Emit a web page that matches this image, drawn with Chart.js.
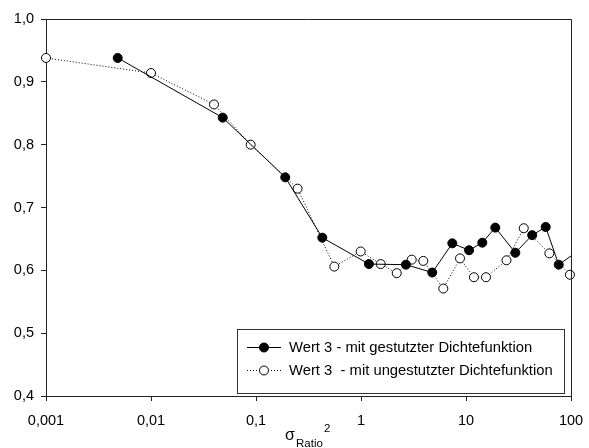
<!DOCTYPE html>
<html>
<head>
<meta charset="utf-8">
<script src="https://cdn.jsdelivr.net/npm/chart.js@4/dist/chart.umd.min.js"></script>
<style>
  html, body { margin: 0; padding: 0; background: #fff; }
  #c { display: block; }
</style>
</head>
<body>
<canvas id="c" width="589" height="448"></canvas>
<script>
// ---- data ----
const filledX = [0.00482, 0.0482, 0.19, 0.428, 1.19, 2.68, 4.77, 7.41, 10.7, 14.3, 19.0, 29.5, 42.7, 57.4, 76.4, 115];
const filledY = [0.938, 0.843, 0.748, 0.652, 0.610, 0.609, 0.5965, 0.643, 0.632, 0.644, 0.668, 0.628, 0.656, 0.669, 0.609, 0.630];
const openX = [0.001, 0.01, 0.0398, 0.089, 0.249, 0.557, 0.993, 1.54, 2.19, 3.04, 3.92, 6.08, 8.77, 11.9, 15.5, 24.3, 35.5, 62.2, 97.7];
const openY = [0.938, 0.914, 0.864, 0.800, 0.730, 0.606, 0.630, 0.610, 0.5955, 0.617, 0.615, 0.571, 0.619, 0.589, 0.589, 0.616, 0.667, 0.627, 0.593];
const xTickValues = [0.001, 0.01, 0.1, 1, 10, 100];
const xTickLabels = ['0,001', '0,01', '0,1', '1', '10', '100'];
const yTickValues = [0.4, 0.5, 0.6, 0.7, 0.8, 0.9, 1.0];
const yTickLabels = ['0,4', '0,5', '0,6', '0,7', '0,8', '0,9', '1,0'];
const seriesNames = ['Wert 3 - mit gestutzter Dichtefunktion', 'Wert 3  - mit ungestutzter Dichtefunktion'];

const FONT = '"Liberation Sans", Arial, sans-serif';
const toPts = (xs, ys) => xs.map((x, i) => ({ x: x, y: ys[i] }));

const framePlugin = {
  id: 'frame',
  afterDatasetsDraw(chart) {
    const { ctx, chartArea: a } = chart;
    ctx.save();
    ctx.strokeStyle = '#222';
    ctx.lineWidth = 1;
    ctx.beginPath();
    ctx.moveTo(a.left, a.top + 0.5);
    ctx.lineTo(a.right + 0.5, a.top + 0.5);
    ctx.lineTo(a.right + 0.5, a.bottom);
    ctx.stroke();
    ctx.restore();
  },
  afterDraw(chart) {
    const { ctx } = chart;
    ctx.save();
    // legend box
    const bx = 237.5, by = 329.5, bw = 327, bh = 64;
    ctx.fillStyle = '#fff';
    ctx.fillRect(bx, by, bw, bh);
    ctx.strokeStyle = '#333';
    ctx.lineWidth = 1;
    ctx.strokeRect(bx, by, bw, bh);
    const rows = [347.5, 370.5];
    const styles = [
      { dash: [], fill: '#000' },
      { dash: [1, 2], fill: '#fff' }
    ];
    rows.forEach((ry, i) => {
      ctx.setLineDash(styles[i].dash);
      ctx.strokeStyle = '#000';
      ctx.beginPath();
      ctx.moveTo(247, ry);
      ctx.lineTo(281, ry);
      ctx.stroke();
      ctx.setLineDash([]);
      ctx.beginPath();
      ctx.arc(264, ry, 4.5, 0, Math.PI * 2);
      ctx.fillStyle = styles[i].fill;
      ctx.fill();
      ctx.stroke();
      ctx.fillStyle = '#000';
      ctx.font = '14.8px ' + FONT;
      ctx.textBaseline = 'middle';
      ctx.textAlign = 'left';
      ctx.fillText(seriesNames[i], 289, ry);
    });
    // x-axis title: sigma_Ratio^2
    ctx.textBaseline = 'alphabetic';
    ctx.font = '16px ' + FONT;
    ctx.fillText('σ', 285, 440);
    ctx.font = '11.5px ' + FONT;
    ctx.fillText('Ratio', 296, 446.5);
    ctx.fillText('2', 324, 432);
    ctx.restore();
  }
};

new Chart(document.getElementById('c'), {
  type: 'line',
  data: {
    datasets: [
      {
        label: seriesNames[0],
        data: toPts(filledX, filledY),
        borderColor: '#000',
        borderWidth: 1,
        pointRadius: 4.5,
        pointBackgroundColor: '#000',
        pointBorderColor: '#000',
        pointBorderWidth: 1,
        tension: 0,
        clip: { left: false, top: false, right: 0, bottom: false }
      },
      {
        label: seriesNames[1],
        data: toPts(openX, openY),
        borderColor: '#000',
        borderWidth: 1,
        borderDash: [1, 2],
        pointRadius: 4.5,
        pointBackgroundColor: '#fff',
        pointBorderColor: '#000',
        pointBorderWidth: 1,
        tension: 0,
        clip: false
      }
    ]
  },
  options: {
    responsive: false,
    animation: false,
    devicePixelRatio: 1,
    layout: { padding: { top: 19, right: 18, left: 0, bottom: 0 } },
    plugins: { legend: { display: false }, tooltip: { enabled: false } },
    scales: {
      x: {
        type: 'logarithmic',
        min: 0.001,
        max: 100,
        afterBuildTicks(scale) { scale.ticks = xTickValues.map(v => ({ value: v })); },
        afterFit(scale) { scale.height = 52; scale.paddingLeft = 0; scale.paddingRight = 0; },
        ticks: {
          autoSkip: false,
          maxRotation: 0,
          color: '#000',
          padding: 11,
          font: { family: FONT, size: 14.5 },
          callback(v) { const i = xTickValues.findIndex(t => Math.abs(t - v) / t < 1e-6); return i >= 0 ? xTickLabels[i] : ''; }
        },
        grid: { drawOnChartArea: false, drawTicks: true, tickLength: 5, color: '#222' },
        border: { display: true, color: '#222', width: 1 }
      },
      y: {
        type: 'linear',
        min: 0.4,
        max: 1.0,
        afterBuildTicks(scale) { scale.ticks = yTickValues.map(v => ({ value: v })); },
        afterFit(scale) { scale.width = 46; scale.paddingTop = 0; scale.paddingBottom = 0; },
        ticks: {
          color: '#000',
          padding: 7,
          font: { family: FONT, size: 14.5 },
          callback(v) { const i = yTickValues.findIndex(t => Math.abs(t - v) < 1e-6); return i >= 0 ? yTickLabels[i] : ''; }
        },
        grid: { drawOnChartArea: false, drawTicks: true, tickLength: 5, color: '#222' },
        border: { display: true, color: '#222', width: 1 }
      }
    }
  },
  plugins: [framePlugin]
});
</script>
</body>
</html>
